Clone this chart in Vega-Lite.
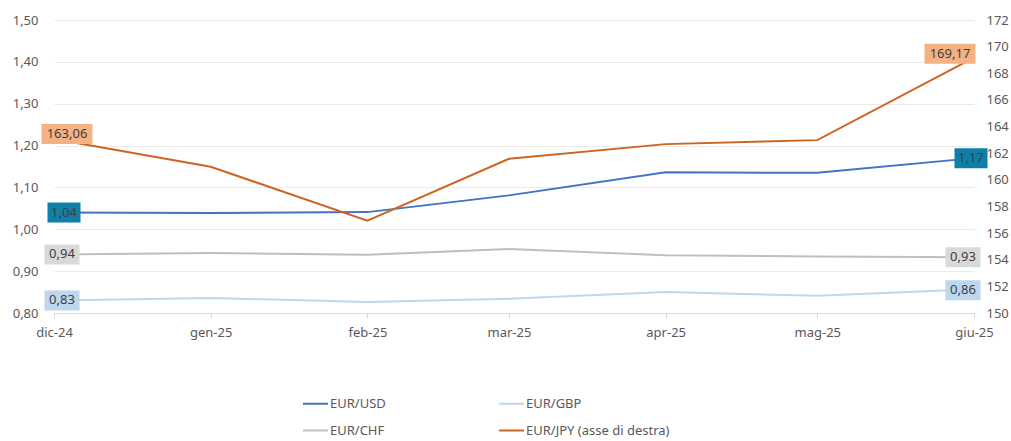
{
  "$schema": "https://vega.github.io/schema/vega-lite/v6.json",
  "width": 920,
  "height": 293,
  "autosize": "none",
  "padding": {"left": 54, "top": 20, "right": 37, "bottom": 128},
  "background": "white",
  "data": {
    "values": [
      {"date": "2024/12/01", "series": "EUR/USD", "value": 1.04},
      {"date": "2025/01/01", "series": "EUR/USD", "value": 1.039},
      {"date": "2025/02/01", "series": "EUR/USD", "value": 1.041},
      {"date": "2025/03/01", "series": "EUR/USD", "value": 1.081},
      {"date": "2025/04/01", "series": "EUR/USD", "value": 1.136},
      {"date": "2025/05/01", "series": "EUR/USD", "value": 1.135},
      {"date": "2025/06/01", "series": "EUR/USD", "value": 1.17},
      {"date": "2024/12/01", "series": "EUR/GBP", "value": 0.83},
      {"date": "2025/01/01", "series": "EUR/GBP", "value": 0.836},
      {"date": "2025/02/01", "series": "EUR/GBP", "value": 0.826},
      {"date": "2025/03/01", "series": "EUR/GBP", "value": 0.834},
      {"date": "2025/04/01", "series": "EUR/GBP", "value": 0.85},
      {"date": "2025/05/01", "series": "EUR/GBP", "value": 0.841},
      {"date": "2025/06/01", "series": "EUR/GBP", "value": 0.857},
      {"date": "2024/12/01", "series": "EUR/CHF", "value": 0.94},
      {"date": "2025/01/01", "series": "EUR/CHF", "value": 0.9435},
      {"date": "2025/02/01", "series": "EUR/CHF", "value": 0.939},
      {"date": "2025/03/01", "series": "EUR/CHF", "value": 0.953},
      {"date": "2025/04/01", "series": "EUR/CHF", "value": 0.938},
      {"date": "2025/05/01", "series": "EUR/CHF", "value": 0.935},
      {"date": "2025/06/01", "series": "EUR/CHF", "value": 0.933},
      {"date": "2024/12/01", "series": "EUR/JPY (asse di destra)", "value": 163.06},
      {"date": "2025/01/01", "series": "EUR/JPY (asse di destra)", "value": 160.98},
      {"date": "2025/02/01", "series": "EUR/JPY (asse di destra)", "value": 156.94},
      {"date": "2025/03/01", "series": "EUR/JPY (asse di destra)", "value": 161.58},
      {"date": "2025/04/01", "series": "EUR/JPY (asse di destra)", "value": 162.68},
      {"date": "2025/05/01", "series": "EUR/JPY (asse di destra)", "value": 162.98},
      {"date": "2025/06/01", "series": "EUR/JPY (asse di destra)", "value": 169.17}
    ]
  },
  "encoding": {
    "x": {
      "field": "date",
      "type": "temporal",
      "scale": {"domain": [{"year": 2024, "month": 12, "date": 1}, {"year": 2025, "month": 6, "date": 1}], "nice": false},
      "axis": {
        "title": null,
        "values": [
          {"year": 2024, "month": 12, "date": 1},
          {"year": 2025, "month": 1, "date": 1},
          {"year": 2025, "month": 2, "date": 1},
          {"year": 2025, "month": 3, "date": 1},
          {"year": 2025, "month": 4, "date": 1},
          {"year": 2025, "month": 5, "date": 1},
          {"year": 2025, "month": 6, "date": 1}
        ],
        "format": "%b-%y",
        "grid": false,
        "domain": true,
        "domainColor": "#D9D9D9",
        "domainWidth": 1,
        "ticks": true,
        "tickColor": "#D9D9D9",
        "tickSize": 5,
        "labelPadding": 8,
        "labelFlush": false,
        "labelOverlap": false,
        "labelFontSize": 13
      }
    }
  },
  "layer": [
    {
      "encoding": {
        "y": {
          "field": "value",
          "type": "quantitative",
          "scale": {"domain": [0.8, 1.5], "nice": false, "zero": false},
          "axis": {
            "orient": "left",
            "title": null,
            "values": [0.8, 0.9, 1.0, 1.1, 1.2, 1.3, 1.4, 1.5],
            "format": ".2f",
            "grid": true,
            "gridColor": "#EBEBEB",
            "gridWidth": 1,
            "domain": false,
            "ticks": false,
            "labelPadding": 16
          }
        }
      },
      "layer": [
        {
          "transform": [{"filter": "datum.series != 'EUR/JPY (asse di destra)'"}],
          "mark": {"type": "line", "strokeWidth": 2},
          "encoding": {
            "color": {
              "field": "series",
              "type": "nominal",
              "scale": {
                "domain": ["EUR/USD", "EUR/GBP", "EUR/CHF", "EUR/JPY (asse di destra)"],
                "range": ["#4472C4", "#BDD7EE", "#BFBFBF", "#CF6420"]
              },
              "legend": {
                "orient": "none",
                "legendX": 248,
                "legendY": 370,
                "direction": "horizontal",
                "columns": 2,
                "title": null,
                "symbolType": "stroke",
                "symbolSize": 625,
                "symbolStrokeWidth": 2,
                "labelFontSize": 13,
                "labelColor": "#595959",
                "labelFont": "Noto Sans",
                "columnPadding": 109,
                "rowPadding": 6,
                "labelOffset": 1
              }
            }
          }
        },
        {
          "transform": [{"filter": "datum.series == 'EUR/USD' && month(datum.date) == 11"}],
          "encoding": {"x2": {"field": "date"}, "y2": {"field": "value"}},
          "layer": [
            {"mark": {"type": "rect", "color": "#0F7FA8", "xOffset": -6.5, "x2Offset": 26.5, "yOffset": -10, "y2Offset": 10}},
            {"mark": {"type": "text", "xOffset": 10, "color": "#404040", "fontSize": 13, "font": "Noto Sans", "baseline": "middle"}, "encoding": {"text": {"field": "value", "type": "quantitative", "format": ".2f"}}}
          ]
        },
        {
          "transform": [{"filter": "datum.series == 'EUR/USD' && month(datum.date) == 5"}],
          "encoding": {"x2": {"field": "date"}, "y2": {"field": "value"}},
          "layer": [
            {"mark": {"type": "rect", "color": "#0F7FA8", "xOffset": -19.5, "x2Offset": 13.5, "yOffset": -10, "y2Offset": 10}},
            {"mark": {"type": "text", "xOffset": -3, "color": "#404040", "fontSize": 13, "font": "Noto Sans", "baseline": "middle"}, "encoding": {"text": {"field": "value", "type": "quantitative", "format": ".2f"}}}
          ]
        },
        {
          "transform": [{"filter": "datum.series == 'EUR/GBP' && month(datum.date) == 11"}],
          "encoding": {"x2": {"field": "date"}, "y2": {"field": "value"}},
          "layer": [
            {"mark": {"type": "rect", "color": "#BDD7EE", "xOffset": -9.5, "x2Offset": 25.5, "yOffset": -10, "y2Offset": 10}},
            {"mark": {"type": "text", "xOffset": 8, "color": "#404040", "fontSize": 13, "font": "Noto Sans", "baseline": "middle"}, "encoding": {"text": {"field": "value", "type": "quantitative", "format": ".2f"}}}
          ]
        },
        {
          "transform": [{"filter": "datum.series == 'EUR/GBP' && month(datum.date) == 5"}],
          "encoding": {"x2": {"field": "date"}, "y2": {"field": "value"}},
          "layer": [
            {"mark": {"type": "rect", "color": "#BDD7EE", "xOffset": -28.5, "x2Offset": 6.5, "yOffset": -9, "y2Offset": 11}},
            {"mark": {"type": "text", "xOffset": -11, "yOffset": 1, "color": "#404040", "fontSize": 13, "font": "Noto Sans", "baseline": "middle"}, "encoding": {"text": {"field": "value", "type": "quantitative", "format": ".2f"}}}
          ]
        },
        {
          "transform": [{"filter": "datum.series == 'EUR/CHF' && month(datum.date) == 11"}],
          "encoding": {"x2": {"field": "date"}, "y2": {"field": "value"}},
          "layer": [
            {"mark": {"type": "rect", "color": "#D9D9D9", "xOffset": -9.5, "x2Offset": 25.5, "yOffset": -10, "y2Offset": 10}},
            {"mark": {"type": "text", "xOffset": 8, "color": "#404040", "fontSize": 13, "font": "Noto Sans", "baseline": "middle"}, "encoding": {"text": {"field": "value", "type": "quantitative", "format": ".2f"}}}
          ]
        },
        {
          "transform": [{"filter": "datum.series == 'EUR/CHF' && month(datum.date) == 5"}],
          "encoding": {"x2": {"field": "date"}, "y2": {"field": "value"}},
          "layer": [
            {"mark": {"type": "rect", "color": "#D9D9D9", "xOffset": -28.5, "x2Offset": 6.5, "yOffset": -10, "y2Offset": 10}},
            {"mark": {"type": "text", "xOffset": -11, "color": "#404040", "fontSize": 13, "font": "Noto Sans", "baseline": "middle"}, "encoding": {"text": {"field": "value", "type": "quantitative", "format": ".2f"}}}
          ]
        }
      ]
    },
    {
      "encoding": {
        "y": {
          "field": "value",
          "type": "quantitative",
          "scale": {"domain": [150, 172], "nice": false, "zero": false},
          "axis": {
            "orient": "right",
            "title": null,
            "values": [150, 152, 154, 156, 158, 160, 162, 164, 166, 168, 170, 172],
            "format": "d",
            "grid": false,
            "domain": false,
            "ticks": false,
            "labelPadding": 12
          }
        }
      },
      "layer": [
        {
          "transform": [{"filter": "datum.series == 'EUR/JPY (asse di destra)'"}],
          "mark": {"type": "line", "strokeWidth": 2},
          "encoding": {
            "color": {
              "field": "series",
              "type": "nominal",
              "scale": {
                "domain": ["EUR/USD", "EUR/GBP", "EUR/CHF", "EUR/JPY (asse di destra)"],
                "range": ["#4472C4", "#BDD7EE", "#BFBFBF", "#CF6420"]
              },
              "legend": {
                "orient": "none",
                "legendX": 248,
                "legendY": 370,
                "direction": "horizontal",
                "columns": 2,
                "title": null,
                "symbolType": "stroke",
                "symbolSize": 625,
                "symbolStrokeWidth": 2,
                "labelFontSize": 13,
                "labelColor": "#595959",
                "labelFont": "Noto Sans",
                "columnPadding": 109,
                "rowPadding": 6,
                "labelOffset": 1
              }
            }
          }
        },
        {
          "transform": [{"filter": "datum.series == 'EUR/JPY (asse di destra)' && month(datum.date) == 11"}],
          "encoding": {"x2": {"field": "date"}, "y2": {"field": "value"}},
          "layer": [
            {"mark": {"type": "rect", "color": "#F4B183", "xOffset": -12.5, "x2Offset": 38.5, "yOffset": -15, "y2Offset": 5}},
            {"mark": {"type": "text", "xOffset": 13, "yOffset": -5, "color": "#404040", "fontSize": 13, "font": "Noto Sans", "baseline": "middle"}, "encoding": {"text": {"field": "value", "type": "quantitative", "format": ".2f"}}}
          ]
        },
        {
          "transform": [{"filter": "datum.series == 'EUR/JPY (asse di destra)' && month(datum.date) == 5"}],
          "encoding": {"x2": {"field": "date"}, "y2": {"field": "value"}},
          "layer": [
            {"mark": {"type": "rect", "color": "#F4B183", "xOffset": -49.5, "x2Offset": 1.5, "yOffset": -14, "y2Offset": 6}},
            {"mark": {"type": "text", "xOffset": -24, "yOffset": -4, "color": "#404040", "fontSize": 13, "font": "Noto Sans", "baseline": "middle"}, "encoding": {"text": {"field": "value", "type": "quantitative", "format": ".2f"}}}
          ]
        }
      ]
    }
  ],
  "resolve": {"scale": {"y": "independent"}, "axis": {"y": "independent"}},
  "config": {
    "view": {"stroke": null},
    "font": "Noto Sans",
    "axis": {"labelFont": "Noto Sans", "labelFontSize": 13, "labelColor": "#595959"},
    "locale": {
      "number": {"decimal": ",", "thousands": ".", "grouping": [3], "currency": ["", " €"]},
      "time": {
        "dateTime": "%A %e %B %Y, %X",
        "date": "%d/%m/%Y",
        "time": "%H:%M:%S",
        "periods": ["AM", "PM"],
        "days": ["domenica", "lunedì", "martedì", "mercoledì", "giovedì", "venerdì", "sabato"],
        "shortDays": ["dom", "lun", "mar", "mer", "gio", "ven", "sab"],
        "months": ["gennaio", "febbraio", "marzo", "aprile", "maggio", "giugno", "luglio", "agosto", "settembre", "ottobre", "novembre", "dicembre"],
        "shortMonths": ["gen", "feb", "mar", "apr", "mag", "giu", "lug", "ago", "set", "ott", "nov", "dic"]
      }
    }
  }
}
